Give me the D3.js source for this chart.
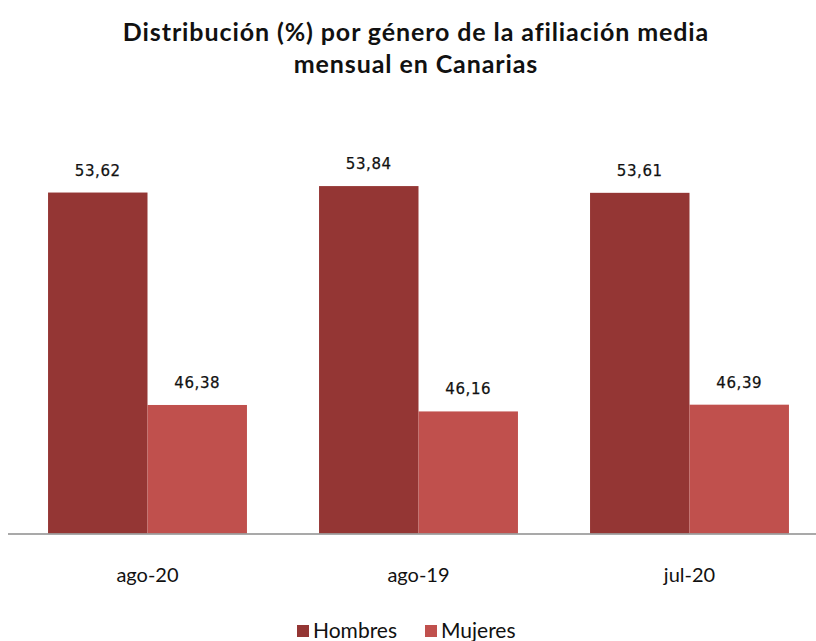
<!DOCTYPE html>
<html><head><meta charset="utf-8">
<script src="https://cdn.jsdelivr.net/npm/d3@7"></script>
<style>body{margin:0;background:#fff}svg{display:block}</style>
</head><body>
<script>
const categories = ["ago-20", "ago-19", "jul-20"];
const seriesNames = ["Hombres", "Mujeres"];
const hombres = [53.62, 53.84, 53.61];
const mujeres = [46.38, 46.16, 46.39];
const titleLines = ["Distribución (%) por género de la afiliación media", "mensual en Canarias"];
const colors = ["#943634", "#C0504D"];

const W = 816, H = 641;
const svg = d3.select("body").append("svg").attr("width", W).attr("height", H);

const x0 = d3.scaleBand().domain(categories).range([12, 825]).paddingInner(0.266).paddingOuter(0.133);
const x1 = d3.scaleBand().domain(seriesNames).range([0, x0.bandwidth()]);
const y = d3.scaleLinear().domain([42, 56]).range([533.5, 122.7]);

const data = categories.map((c, i) => ({cat: c, vals: [hombres[i], mujeres[i]]}));
const fmt = v => d3.format(".2f")(v).replace(".", ",");

const g = svg.selectAll("g.grp").data(data).join("g").attr("class", "grp")
  .attr("transform", d => `translate(${x0(d.cat)},0)`);
g.selectAll("rect").data(d => d.vals.map((v, j) => ({s: seriesNames[j], v, j})))
  .join("rect")
  .attr("x", d => x1(d.s)).attr("width", x1.bandwidth())
  .attr("y", d => y(d.v)).attr("height", d => y(42) - y(d.v))
  .attr("fill", d => colors[d.j]);
g.selectAll("text").data(d => d.vals.map((v, j) => ({s: seriesNames[j], v, j})))
  .join("text")
  .attr("x", d => x1(d.s) + x1.bandwidth() / 2)
  .attr("y", d => y(d.v) - 17)
  .attr("text-anchor", "middle")
  .attr("font-family", "DejaVu Sans").attr("font-size", 15).attr("letter-spacing", 0.6)
  .attr("fill", "#111").attr("stroke", "#111").attr("stroke-width", 0.25)
  .text(d => fmt(d.v));

// x axis
const xAxis = svg.append("g").attr("transform", `translate(0,${y(42)})`)
  .call(d3.axisBottom(x0).tickSize(0).tickPadding(0));
xAxis.select(".domain").remove();
svg.append("line").attr("x1", 8).attr("x2", W).attr("y1", y(42) + 0.5).attr("y2", y(42) + 0.5)
  .attr("stroke", "#8c8c8c").attr("stroke-width", 1.5);
xAxis.selectAll("text").attr("dy", 0).attr("y", 48)
  .attr("font-family", "Lato").attr("font-size", 20).attr("fill", "#111");

// title
svg.append("g").selectAll("text").data(titleLines).join("text")
  .attr("x", 416).attr("y", (d, i) => 41 + i * 32)
  .attr("text-anchor", "middle")
  .attr("font-family", "Lato").attr("font-weight", "bold").attr("font-size", 25)
  .attr("letter-spacing", 0.9)
  .attr("fill", "#111")
  .text(d => d);

// legend
const legX = [297, 425];
const leg = svg.append("g").selectAll("g").data(seriesNames).join("g")
  .attr("transform", (d, i) => `translate(${legX[i]},625)`);
leg.append("rect").attr("width", 12).attr("height", 12).attr("fill", (d, i) => colors[i]);
leg.append("text").attr("x", 16).attr("y", 13)
  .attr("font-family", "Lato").attr("font-size", 21).attr("fill", "#111").text(d => d);
</script>
</body></html>
